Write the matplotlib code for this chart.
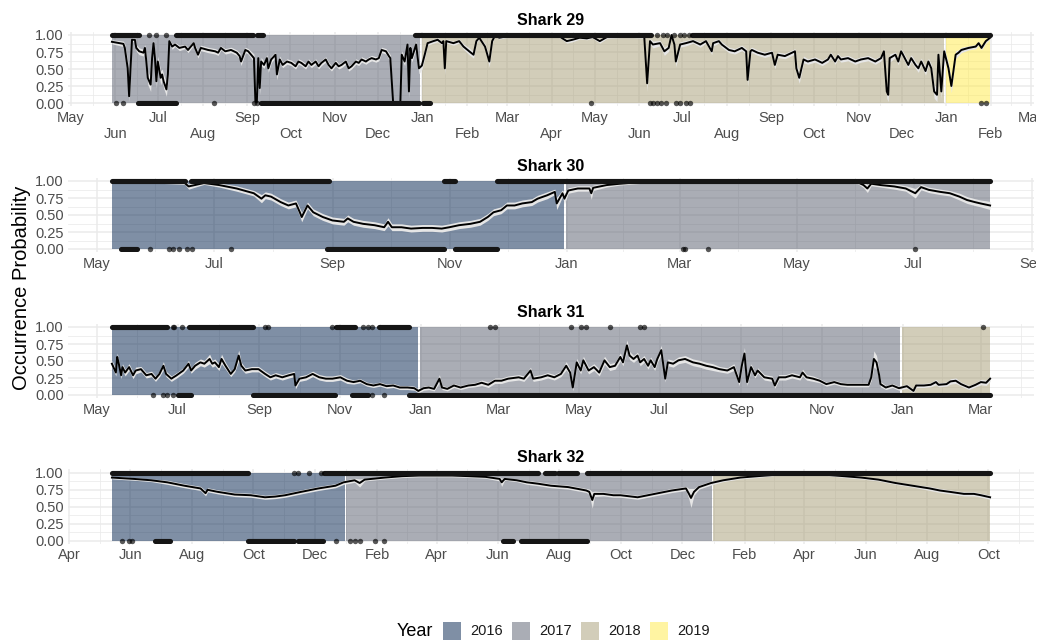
import numpy as np
import pandas as pd
import matplotlib
matplotlib.use('Agg')
import matplotlib.pyplot as plt
from matplotlib.patches import Rectangle
from matplotlib.transforms import Bbox, TransformedBbox

plt.rcParams['font.family'] = ['Liberation Sans', 'DejaVu Sans']

# year fill colours (cividis, drawn at alpha 0.5)
year_colors = {2016: '#00204D', 2017: '#575C6D', 2018: '#A69D75', 2019: '#FFEA46'}

# ---------------- Shark 29 ----------------
s29_start = '2017-05-30'
s29_day = [0, 8, 9, 11, 12, 13, 14, 16, 17, 19,
           22, 23, 24, 25, 27, 28, 29, 30, 31, 32,
           34, 35, 36, 38, 39, 40, 42, 44, 47, 51,
           53, 57, 58, 60, 62, 67, 72, 74, 76, 79,
           83, 87, 89, 90, 93, 95, 97, 99, 100, 101,
           102, 103, 104, 106, 108, 109, 111, 114, 115, 117,
           119, 122, 125, 128, 130, 132, 135, 137, 139, 142,
           144, 146, 149, 151, 153, 156, 158, 160, 163, 165,
           167, 170, 172, 174, 177, 179, 181, 184, 186, 188,
           191, 193, 194, 196, 201, 202, 204, 206, 207, 208,
           209, 212, 214, 216, 218, 220, 224, 227, 230, 231,
           232, 233, 238, 242, 245, 249, 252, 254, 256, 260,
           261, 263, 265, 267, 270, 275, 284, 294, 303, 312,
           314, 317, 321, 326, 331, 335, 340, 345, 354, 363,
           371, 373, 375, 377, 382, 385, 388, 390, 392, 393,
           396, 400, 405, 410, 414, 418, 419, 423, 425, 430,
           434, 439, 442, 443, 445, 446, 450, 455, 460, 462,
           464, 469, 476, 477, 479, 482, 485, 490, 495, 499,
           501, 504, 506, 508, 513, 518, 522, 527, 532, 536,
           538, 540, 541, 542, 546, 548, 550, 553, 555, 557,
           560, 562, 564, 567, 569, 571, 573, 575, 576, 578,
           580, 583, 585, 588, 590, 592, 597, 602, 604, 606,
           609, 612]
s29_prob = [.90, .87, .81, .51, .10, .51, .93, .93, .81, .76,
            .74, .81, .61, .37, .27, .66, .88, .66, .32, .61,
            .37, .42, .32, .20, .42, .91, .83, .86, .81, .83,
            .78, .88, .81, .71, .81, .78, .76, .74, .81, .76,
            .78, .74, .69, .61, .78, .76, .71, .66, .02, .01,
            .66, .22, .61, .56, .66, .51, .64, .71, .42, .64,
            .56, .61, .59, .54, .61, .59, .54, .61, .56, .61,
            .54, .59, .64, .56, .51, .59, .54, .56, .61, .51,
            .54, .61, .59, .64, .61, .64, .66, .64, .66, .78,
            .76, .69, .66, .00, .00, .71, .61, .86, .17, .81,
            .66, .86, .51, .55, .71, .88, .91, .93, .88, .91,
            .51, .91, .88, .91, .83, .76, .71, .91, .96, .83,
            .76, .61, .91, .99, .96, .98, .98, .99, .99, .98,
            .95, .91, .93, .96, .95, .97, .91, .97, .98, .98,
            .97, .29, .91, .86, .88, .76, .81, 1.0, .86, .61,
            .86, .88, .91, .86, .91, .76, .88, .91, .86, .78,
            .76, .81, .76, .34, .76, .78, .74, .71, .74, .56,
            .71, .69, .76, .51, .37, .64, .61, .64, .59, .64,
            .71, .61, .69, .64, .66, .61, .64, .66, .61, .66,
            .76, .17, .12, .66, .71, .61, .76, .64, .56, .66,
            .56, .51, .61, .47, .61, .51, .17, .12, .71, .17,
            .76, .51, .25, .71, .74, .78, .81, .83, .88, .81,
            .91, .96]
s29_band = [.03, .04, .06, .10, .08, .10, .03, .03, .05, .05,
            .05, .05, .08, .10, .10, .08, .05, .08, .10, .08,
            .10, .08, .10, .10, .08, .03, .04, .03, .04, .03,
            .04, .03, .04, .05, .04, .04, .04, .04, .03, .04,
            .04, .04, .05, .06, .04, .04, .05, .06, .02, .02,
            .06, .10, .06, .05, .05, .06, .05, .04, .08, .05,
            .04, .04, .04, .04, .04, .04, .04, .04, .04, .04,
            .04, .04, .04, .04, .04, .04, .04, .04, .04, .04,
            .04, .04, .04, .04, .04, .04, .04, .04, .04, .04,
            .04, .05, .05, .02, .02, .06, .06, .05, .10, .05,
            .06, .05, .08, .06, .05, .03, .03, .03, .03, .03,
            .10, .03, .03, .03, .04, .05, .05, .03, .02, .04,
            .05, .08, .03, .01, .02, .02, .02, .01, .01, .02,
            .02, .03, .03, .02, .02, .02, .03, .02, .02, .02,
            .02, .12, .04, .05, .04, .06, .05, .01, .05, .08,
            .04, .04, .03, .04, .03, .05, .04, .03, .04, .04,
            .04, .04, .04, .10, .05, .04, .04, .04, .04, .06,
            .04, .04, .04, .08, .08, .05, .04, .04, .04, .04,
            .04, .04, .04, .04, .04, .04, .04, .04, .04, .04,
            .04, .10, .10, .06, .04, .05, .04, .05, .05, .05,
            .05, .06, .05, .06, .05, .06, .10, .10, .06, .10,
            .06, .08, .10, .06, .04, .04, .03, .03, .03, .03,
            .03, .02]
s29_on_runs = [(0, 19), (45, 98), (101, 105), (211, 376), (404, 612)]
s29_on_days = [26, 31, 38, 380, 384, 387, 392, 396, 399, 402]
s29_off_runs = [(18, 45), (104, 214), (217, 222)]
s29_off_days = [3, 8, 71, 99, 101, 334, 375, 377, 380, 383, 386, 393, 396,
                400, 403, 606, 609]

# ---------------- Shark 30 ----------------
s30_start = '2016-05-09'
s30_day = [0, 12, 30, 38, 40, 48, 56, 65, 74, 78,
           80, 83, 88, 92, 96, 98, 99, 102, 105, 110,
           115, 121, 123, 126, 131, 137, 142, 144, 146, 151,
           156, 162, 167, 172, 176, 181, 187, 192, 196, 199,
           203, 206, 210, 214, 219, 222, 227, 231, 232, 235,
           236, 238, 243, 249, 250, 251, 258, 265, 274, 283,
           301, 319, 337, 354, 372, 389, 392, 394, 396, 401,
           408, 414, 419, 422, 426, 432, 437, 442, 446, 450,
           453, 458]
s30_prob = [1.0, .99, .98, .97, .92, .97, .94, .89, .82, .74,
            .79, .77, .69, .64, .67, .54, .47, .64, .54, .47,
            .42, .40, .45, .40, .37, .35, .32, .40, .32, .32,
            .30, .31, .31, .30, .32, .35, .37, .40, .47, .54,
            .57, .64, .64, .67, .69, .74, .79, .84, .67, .82,
            .74, .86, .89, .89, .82, .90, .94, .96, .98, .99,
            .99, .99, .99, .99, .99, .98, .94, .89, .96, .94,
            .92, .89, .82, .91, .87, .84, .82, .77, .72, .69,
            .67, .64]
s30_band = [.01, .01, .02, .02, .04, .02, .03, .04, .04, .06,
            .05, .05, .05, .05, .05, .06, .07, .05, .05, .05,
            .05, .05, .05, .05, .05, .05, .05, .06, .05, .05,
            .05, .05, .05, .05, .05, .05, .05, .05, .05, .05,
            .05, .05, .05, .05, .05, .05, .05, .04, .09, .05,
            .08, .04, .04, .04, .09, .04, .03, .02, .02, .01,
            .01, .01, .01, .01, .01, .02, .04, .06, .03, .03,
            .04, .04, .07, .04, .04, .04, .04, .05, .05, .05,
            .05, .06]
s30_on_runs = [(0, 38), (41, 113), (173, 179), (201, 458)]
s30_on_days = []
s30_off_runs = [(5, 13), (112, 173), (179, 201)]
s30_off_days = [20, 30, 32, 35, 39, 42, 62, 298, 299, 311, 419]

# ---------------- Shark 31 ----------------
s31_start = '2016-05-13'
s31_day = [0, 3, 4, 5, 7, 8, 10, 13, 16, 18,
           22, 26, 30, 33, 36, 39, 41, 45, 49, 54,
           58, 60, 63, 67, 70, 74, 76, 78, 81, 83,
           86, 90, 93, 96, 98, 101, 106, 111, 116, 120,
           124, 129, 134, 138, 139, 142, 147, 152, 157, 162,
           167, 173, 178, 183, 188, 193, 198, 203, 208, 213,
           218, 224, 229, 232, 236, 240, 244, 248, 250, 254,
           259, 264, 270, 275, 280, 285, 290, 295, 300, 308,
           312, 317, 319, 325, 330, 335, 340, 344, 347, 349,
           352, 355, 357, 361, 365, 369, 373, 377, 381, 385,
           387, 390, 392, 395, 398, 400, 403, 406, 408, 411,
           413, 416, 419, 421, 425, 429, 434, 440, 445, 450,
           455, 460, 466, 471, 475, 477, 479, 481, 484, 487,
           489, 494, 500, 502, 505, 510, 515, 521, 523, 526,
           531, 536, 541, 547, 552, 557, 562, 568, 573, 575,
           577, 579, 581, 582, 586, 591, 596, 602, 607, 609,
           615, 620, 624, 626, 632, 635, 639, 643, 649, 654,
           658, 662, 665]
s31_prob = [.46, .33, .56, .48, .29, .41, .33, .41, .29, .36,
            .38, .29, .31, .24, .31, .43, .31, .24, .29, .36,
            .46, .36, .43, .48, .46, .53, .46, .48, .41, .53,
            .43, .31, .38, .58, .43, .36, .38, .38, .31, .26,
            .29, .26, .29, .31, .14, .24, .26, .31, .26, .24,
            .24, .26, .21, .19, .21, .16, .14, .16, .13, .14,
            .11, .11, .10, .06, .10, .11, .09, .24, .11, .09,
            .14, .11, .14, .15, .18, .15, .21, .21, .24, .26,
            .24, .36, .24, .26, .29, .26, .31, .43, .33, .11,
            .48, .36, .51, .36, .41, .33, .51, .41, .43, .56,
            .48, .73, .58, .53, .58, .48, .53, .43, .51, .41,
            .53, .66, .24, .48, .46, .51, .53, .48, .46, .43,
            .41, .38, .36, .41, .19, .43, .61, .19, .41, .29,
            .36, .26, .24, .14, .26, .26, .29, .26, .33, .26,
            .24, .21, .16, .19, .16, .15, .15, .15, .15, .26,
            .53, .48, .29, .16, .11, .14, .10, .13, .06, .14,
            .14, .15, .19, .15, .16, .20, .21, .16, .11, .15,
            .19, .18, .24]
s31_band = [.05, .05, .06, .05, .05, .05, .05, .05, .05, .05,
            .04, .04, .04, .04, .04, .06, .04, .04, .04, .04,
            .05, .04, .05, .05, .05, .07, .05, .05, .05, .07,
            .05, .04, .04, .08, .05, .04, .04, .04, .04, .04,
            .04, .04, .04, .04, .05, .04, .04, .04, .04, .04,
            .04, .04, .04, .03, .03, .03, .03, .03, .03, .03,
            .03, .03, .03, .03, .03, .03, .03, .06, .03, .03,
            .03, .03, .03, .03, .04, .04, .04, .04, .04, .04,
            .04, .05, .04, .04, .04, .04, .04, .06, .05, .05,
            .06, .05, .06, .05, .05, .05, .06, .05, .05, .06,
            .05, .08, .06, .05, .05, .05, .05, .05, .05, .05,
            .05, .07, .05, .05, .05, .05, .05, .05, .05, .05,
            .05, .04, .04, .05, .05, .06, .09, .05, .05, .04,
            .04, .04, .04, .04, .04, .04, .04, .04, .05, .04,
            .04, .03, .03, .03, .03, .03, .03, .03, .03, .05,
            .12, .10, .06, .04, .03, .03, .03, .03, .03, .03,
            .03, .03, .04, .03, .03, .04, .04, .03, .03, .03,
            .04, .04, .04]
s31_on_runs = [(0, 42), (58, 107), (170, 184), (202, 225)]
s31_on_days = [46, 47, 53, 116, 118, 167, 190, 194, 197, 286, 290,
               348, 355, 359, 377, 400, 403, 660]
s31_off_runs = [(50, 60), (107, 169), (182, 194), (225, 665)]
s31_off_days = [31, 39, 42, 46, 197, 206]

# ---------------- Shark 32 ----------------
s32_start = '2016-05-14'
s32_day = [0, 22, 39, 55, 72, 88, 93, 95, 105, 122,
           138, 152, 162, 172, 188, 205, 222, 230, 241, 246,
           251, 271, 288, 305, 321, 338, 355, 371, 385, 387,
           390, 402, 412, 423, 436, 453, 471, 474, 477, 479,
           488, 498, 505, 522, 539, 556, 570, 573, 575, 578,
           583, 595, 607, 624, 641, 658, 675, 692, 710, 727,
           744, 761, 778, 795, 812, 822, 832, 846, 856, 863,
           872]
s32_prob = [.93, .91, .89, .86, .81, .77, .70, .75, .72, .68,
            .67, .64, .65, .67, .72, .77, .81, .86, .89, .85,
            .90, .93, .95, .96, .96, .96, .95, .94, .91, .86,
            .91, .89, .86, .84, .81, .79, .74, .72, .60, .69,
            .69, .67, .67, .64, .69, .74, .77, .69, .63, .72,
            .79, .85, .89, .93, .95, .97, .98, .98, .97, .95,
            .93, .90, .85, .81, .77, .74, .72, .69, .69, .67,
            .64]
s32_band = [.02, .02, .02, .03, .03, .03, .04, .03, .03, .03,
            .03, .03, .03, .03, .03, .03, .03, .03, .03, .06,
            .02, .02, .02, .02, .02, .02, .02, .02, .03, .06,
            .02, .02, .03, .03, .03, .03, .03, .04, .12, .04,
            .03, .03, .03, .03, .03, .03, .03, .08, .14, .05,
            .03, .03, .02, .02, .02, .01, .01, .01, .01, .02,
            .02, .02, .02, .02, .03, .03, .03, .03, .03, .03,
            .03]
s32_on_runs = [(0, 135), (211, 423), (430, 440), (443, 462), (472, 872)]
s32_on_days = [181, 185, 196, 208]
s32_off_runs = [(43, 58), (135, 181), (185, 210), (388, 398), (406, 472)]
s32_off_days = [10, 17, 20, 223, 236, 241, 246, 261, 270]

sharks = [
    dict(name='Shark 29', start=s29_start, day=s29_day, prob=s29_prob, band=s29_band,
         on_runs=s29_on_runs, on_days=s29_on_days, off_runs=s29_off_runs,
         off_days=s29_off_days, step=1, dodge=True),
    dict(name='Shark 30', start=s30_start, day=s30_day, prob=s30_prob, band=s30_band,
         on_runs=s30_on_runs, on_days=s30_on_days, off_runs=s30_off_runs,
         off_days=s30_off_days, step=2, dodge=False),
    dict(name='Shark 31', start=s31_start, day=s31_day, prob=s31_prob, band=s31_band,
         on_runs=s31_on_runs, on_days=s31_on_days, off_runs=s31_off_runs,
         off_days=s31_off_days, step=2, dodge=False),
    dict(name='Shark 32', start=s32_start, day=s32_day, prob=s32_prob, band=s32_band,
         on_runs=s32_on_runs, on_days=s32_on_days, off_runs=s32_off_runs,
         off_days=s32_off_days, step=2, dodge=False),
]

W, H = 1055, 642
panel_tops = [31.6, 177.6, 323.6, 469.4]
panel_h = 74.8
left_px, right_px = 68, 1034


def to_dates(start, days):
    return pd.Timestamp(start) + pd.to_timedelta(days, unit='D')


def draw_panel(ax, s, fig):
    start = pd.Timestamp(s['start'])
    dates = to_dates(start, s['day'])
    end = dates[-1]
    pad = (end - start) * 0.05
    lim0, lim1 = start - pad, end + pad

    # year blocks
    for yr in range(start.year, end.year + 1):
        a = max(start, pd.Timestamp(yr, 1, 1))
        b = min(end, pd.Timestamp(yr, 12, 31))
        ax.fill_between([a, b], 0, 1, color=year_colors[yr], alpha=0.5, lw=0, zorder=1)

    prob = np.array(s['prob'])
    band = np.array(s['band'])
    ax.fill_between(dates, np.clip(prob - band, 0, 1), np.clip(prob + band, 0, 1),
                    color='#E6E6E6', lw=0, zorder=2)
    ax.plot(dates, prob, color='black', lw=1.4, zorder=3)

    # detections
    for runs, y in ((s['on_runs'], 1), (s['off_runs'], 0)):
        for a, b in runs:
            ax.plot(to_dates(start, [a, b]), [y, y], color='#151515', lw=3.7,
                    solid_capstyle='round', zorder=4)
    for days, y in ((s['on_days'], 1), (s['off_days'], 0)):
        if days:
            ax.scatter(to_dates(start, days), np.full(len(days), y), s=15,
                       color='black', alpha=0.65, lw=0, zorder=4)

    ax.set_xlim(lim0, lim1)
    ax.set_ylim(-0.05, 1.05)

    months = pd.date_range(lim0, lim1, freq='MS')[::s['step']]
    labels = []
    for i, m in enumerate(months):
        lab = m.strftime('%b')
        if s['dodge'] and i % 2 == 1:
            lab = '\n' + lab
        labels.append(lab)
    ax.set_xticks(months, labels)
    mnum = months.asi8
    step = mnum[1] - mnum[0]
    mids = list((mnum[:-1] + mnum[1:]) // 2) + [mnum[0] - step // 2, mnum[-1] + step // 2]
    minor = [pd.Timestamp(v) for v in mids if lim0.value <= v <= lim1.value]
    ax.set_xticks(minor, minor=True)

    ax.set_yticks([0, 0.25, 0.5, 0.75, 1.0], ['0.00', '0.25', '0.50', '0.75', '1.00'])
    ax.set_yticks([0.125, 0.375, 0.625, 0.875], minor=True)

    ax.set_axisbelow(True)
    ax.grid(which='major', color='#EBEBEB', lw=1.1)
    ax.grid(which='minor', color='#EBEBEB', lw=0.55)
    ax.tick_params(which='both', length=0, labelsize=10.5, labelcolor='#4D4D4D')
    ax.tick_params(axis='x', pad=3)
    ax.tick_params(axis='y', pad=3)
    for sp in ax.spines.values():
        sp.set_visible(False)
    ax.set_title(s['name'], fontsize=11.5, fontweight='bold', pad=5)

    clip = TransformedBbox(Bbox([[0, 0], [1036 / W, 1]]), fig.transFigure)
    for lbl in ax.get_xticklabels():
        lbl.set_clip_box(clip)
        lbl.set_clip_on(True)


def main():
    fig = plt.figure(figsize=(W / 100, H / 100), dpi=100)
    for s, top in zip(sharks, panel_tops):
        ax = fig.add_axes([left_px / W, 1 - (top + panel_h) / H,
                           (right_px - left_px) / W, panel_h / H])
        draw_panel(ax, s, fig)

    fig.text(22 / W, 1 - 288 / H, 'Occurrence Probability', rotation=90,
             ha='center', va='center', fontsize=14.5)

    # legend
    fig.text(397 / W, 1 - 631 / H, 'Year', ha='left', va='center', fontsize=13)
    box_x = [443, 512, 581, 650]
    for x, yr in zip(box_x, [2016, 2017, 2018, 2019]):
        fig.add_artist(Rectangle((x / W, 1 - 640 / H), 18 / W, 18 / H,
                                 transform=fig.transFigure, facecolor=year_colors[yr],
                                 alpha=0.5, lw=0))
        fig.text((x + 27) / W, 1 - 631 / H, str(yr), ha='left', va='center',
                 fontsize=10.5, color='#1A1A1A')

    fig.savefig('out.png', dpi=100)


if __name__ == '__main__':
    main()
